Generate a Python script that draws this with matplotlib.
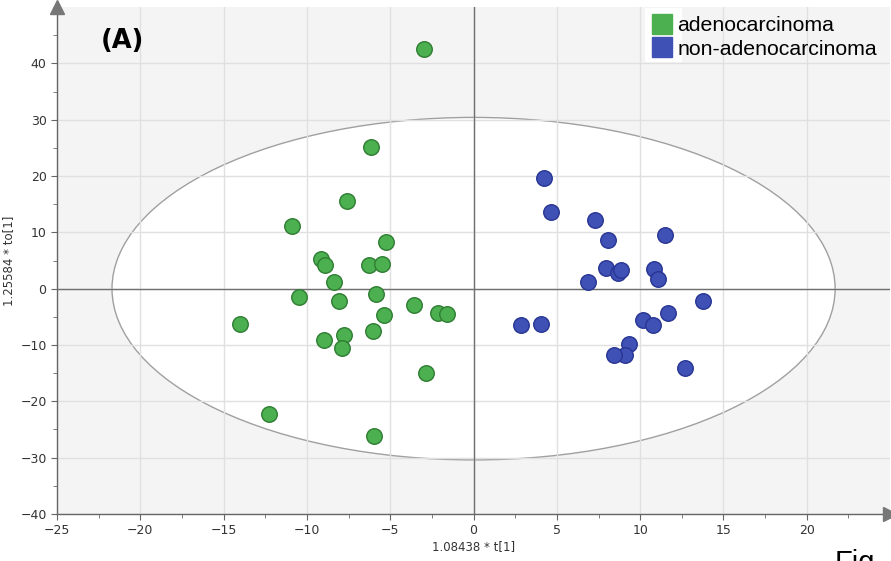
import numpy as np
from matplotlib import pyplot as plt
from matplotlib.patches import Ellipse, Rectangle
from matplotlib.ticker import MultipleLocator

# scores, adenocarcinoma
adeno_t = [-3.0, -6.15, -7.6, -10.9, -5.25, -9.15, -8.9, -6.3, -5.5, -8.4,
           -10.45, -5.85, -8.05, -3.55, -14.0, -5.4, -2.15, -1.6, -7.75, -6.05,
           -8.95, -7.9, -2.85, -12.25, -5.95]
adeno_to = [42.6, 25.1, 15.5, 11.1, 8.2, 5.2, 4.2, 4.2, 4.4, 1.2,
            -1.5, -0.9, -2.2, -2.9, -6.2, -4.7, -4.3, -4.5, -8.3, -7.5,
            -9.1, -10.6, -14.9, -22.2, -26.2]

# scores, non-adenocarcinoma
non_t = [4.25, 4.65, 7.3, 8.05, 11.5, 7.95, 8.65, 8.85, 6.85, 10.8,
         11.05, 13.75, 11.65, 10.15, 10.75, 2.85, 4.05, 9.3, 9.1, 8.4, 12.7]
non_to = [19.6, 13.6, 12.2, 8.6, 9.5, 3.6, 2.7, 3.3, 1.1, 3.5,
          1.7, -2.2, -4.4, -5.6, -6.5, -6.5, -6.3, -9.8, -11.8, -11.8, -14.1]

ellipse_w = 43.4
ellipse_h = 60.8

green = '#4cb050'
green_edge = '#2e7d32'
blue = '#3f51b5'
blue_edge = '#283593'

fig = plt.figure(figsize=(8.91, 5.61), dpi=100)
ax = fig.add_axes([0.064, 0.0838, 0.935, 0.9037])
ax.set_facecolor('#f4f4f4')

ax.add_patch(Ellipse((0, 0), ellipse_w, ellipse_h, facecolor='white',
                     edgecolor='#a0a0a0', lw=1.0, zorder=0.2))

ax.set_xlim(-25, 25)
ax.set_ylim(-40, 50)
ax.xaxis.set_minor_locator(MultipleLocator(2.5))
ax.yaxis.set_minor_locator(MultipleLocator(5))
ax.set_xticks(np.arange(-25, 21, 5))
ax.set_yticks(np.arange(-40, 41, 10))
ax.set_axisbelow(True)
ax.grid(True, which='major', color='#e0e0e0', lw=1.0)

ax.axhline(0, color='#707070', lw=1.0, zorder=1)
ax.axvline(0, color='#707070', lw=1.0, zorder=1)

for s in ['top', 'right']:
    ax.spines[s].set_visible(False)
for s in ['left', 'bottom']:
    ax.spines[s].set_color('#666666')
    ax.spines[s].set_linewidth(1.0)
ax.plot([25], [-40], marker='>', color='#777777', ms=10, clip_on=False, zorder=5)
ax.plot([-25], [50], marker='^', color='#777777', ms=10, clip_on=False, zorder=5)

ax.tick_params(which='major', length=4, color='#666666', labelsize=9, labelcolor='#333333')
ax.tick_params(which='minor', length=3, color='#666666')

ax.scatter(adeno_t, adeno_to, s=125, c=green, edgecolors=green_edge, linewidths=1.0, zorder=3)
ax.scatter(non_t, non_to, s=125, c=blue, edgecolors=blue_edge, linewidths=1.0, zorder=3)

ax.set_xlabel('1.08438 * t[1]', fontsize=8.5, color='#333333', labelpad=2)
ax.set_ylabel('1.25584 * to[1]', fontsize=8.5, color='#333333', labelpad=4)

ax.text(-22.4, 44.0, '(A)', fontsize=18.5, fontweight='bold', ha='left', va='center')

# white patch behind the legend keys
ax.add_patch(Rectangle((0.706, 0.8915), 0.044, 0.1065, transform=ax.transAxes,
                       facecolor='white', edgecolor='none', zorder=4, clip_on=False))

h1 = plt.Line2D([], [], marker='s', ls='', color=green, ms=14)
h2 = plt.Line2D([], [], marker='s', ls='', color=blue, ms=14)
leg = ax.legend([h1, h2], ['adenocarcinoma', 'non-adenocarcinoma'],
                loc='upper left', bbox_to_anchor=(0.713, 0.986), frameon=False,
                prop={'family': 'Liberation Sans', 'size': 15.3},
                handlelength=0.8, handletextpad=0.35, labelspacing=0.22,
                borderpad=0.1, borderaxespad=0.0)
leg.set_zorder(6)

fig.text(0.937, 0.021, 'Fig', fontsize=21, ha='left', va='top',
         family='Liberation Sans')

fig.savefig('out.png', dpi=100)
